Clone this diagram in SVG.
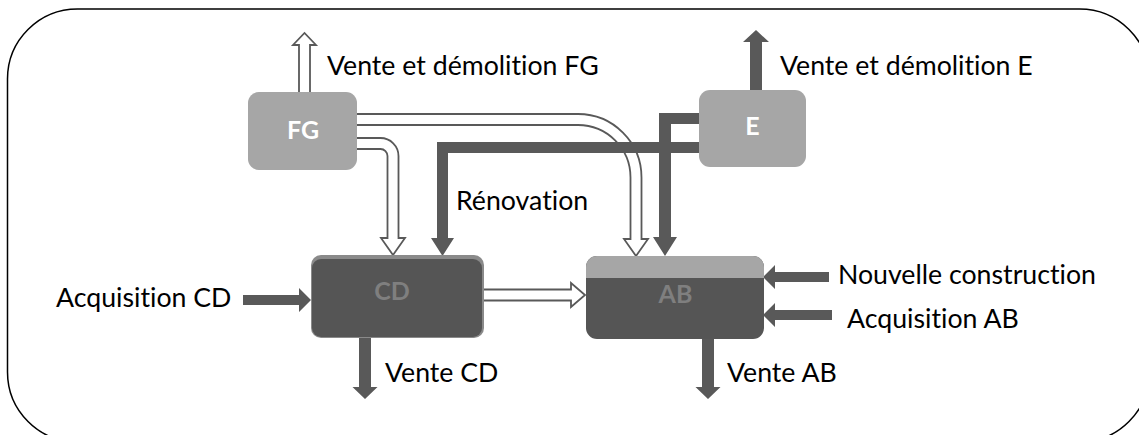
<svg xmlns="http://www.w3.org/2000/svg" width="1139" height="435" viewBox="0 0 1139 435">
<style>
.lbl{font-family:Lato,"Liberation Sans",sans-serif;font-size:26.7px;fill:#000;font-variant-ligatures:none}
.hollow{fill:#fff;stroke:#595959;stroke-width:1.8;stroke-linejoin:miter}
.solid{fill:#595959;stroke:none}
.light{fill:#a6a6a6}
.dark{fill:#555555}
.boxw{font-family:Lato,"Liberation Sans",sans-serif;font-weight:bold;font-size:25px;fill:#ffffff;text-anchor:middle}
.boxg{font-family:Lato,"Liberation Sans",sans-serif;font-weight:bold;font-size:25px;fill:#7f7f7f;text-anchor:middle}
</style>
<rect x="0" y="0" width="1139" height="435" fill="#fff"/>
<rect x="7.5" y="9" width="1142" height="433" rx="70" ry="70" fill="none" stroke="#000" stroke-width="1.5"/>
<g id="connectors">
  <path class="hollow" d="M357,114 H578 A63.5,63.5 0 0 1 641.5,177.5 V239 H648 L636,256 L624,239 H630.5 V177.5 A52.5,52.5 0 0 0 578,125 H357"/>
  <path class="hollow" d="M357,138 H380.5 A18,18 0 0 1 398.5,156 V238 H405 L393,255 L381,238 H387.5 V156 A7,7 0 0 0 380.5,149 H357"/>
  <path class="hollow" d="M299,92 V45 H293 L304.5,33 L316,45 H310 V92"/>
  <path class="hollow" d="M484,289.5 H571 V283 L585,295 L571,307 V300.5 H484"/>
  <path class="solid" d="M699,142 H437 V238 H431 L442.5,256 L454,238 H448 V153 H699 Z"/>
  <path class="solid" d="M699,113 H659 V237 H653 L665,256 L677,237 H671 V124 H699 Z"/>
  <path class="solid" d="M750,90 V42 H743 L756,30 L769,42 H762 V90 Z"/>
  <path class="solid" d="M243,295 H299 V288 L311,300 L299,312 V305 H243 Z"/>
  <path class="solid" d="M359,337 V387 H352.5 L365,399 L377.5,387 H371 V337 Z"/>
  <path class="solid" d="M702,338 V387 H695.5 L708,399 L720.5,387 H714 V338 Z"/>
  <path class="solid" d="M829,272 H775 V265 L763,277 L775,289 V282 H829 Z"/>
  <path class="solid" d="M832,310 H775 V303 L763,315 L775,327 V320 H832 Z"/>
</g>
<g id="labels">
  <text class="lbl" x="327" y="75">Vente et démolition FG</text>
  <text class="lbl" x="780" y="75">Vente et démolition E</text>
  <text class="lbl" x="456" y="210">Rénovation</text>
  <text class="lbl" x="56" y="307">Acquisition CD</text>
  <text class="lbl" x="385" y="382">Vente CD</text>
  <text class="lbl" x="727" y="382">Vente AB</text>
  <text class="lbl" x="838" y="284">Nouvelle construction</text>
  <text class="lbl" x="847" y="328">Acquisition AB</text>
</g>
<g id="node-FG">
  <rect class="light" x="248" y="92" width="109" height="78" rx="11"/>
  <text class="boxw" x="303" y="139">FG</text>
</g>
<g id="node-E">
  <rect class="light" x="699" y="90" width="107" height="77" rx="11"/>
  <text class="boxw" x="752.5" y="135">E</text>
</g>
<g id="node-CD">
  <rect x="311" y="255" width="173" height="83" rx="10" fill="#8a8a8a"/>
  <rect class="dark" x="312" y="259" width="170" height="78" rx="9"/>
  <text class="boxg" x="392" y="300">CD</text>
</g>
<g id="node-AB">
  <rect class="dark" x="586" y="256" width="178" height="83" rx="11"/>
  <path class="light" d="M586,278 V267 A11,11 0 0 1 597,256 H753 A11,11 0 0 1 764,267 V278 Z"/>
  <text class="boxg" x="675.5" y="303">AB</text>
</g>
</svg>
